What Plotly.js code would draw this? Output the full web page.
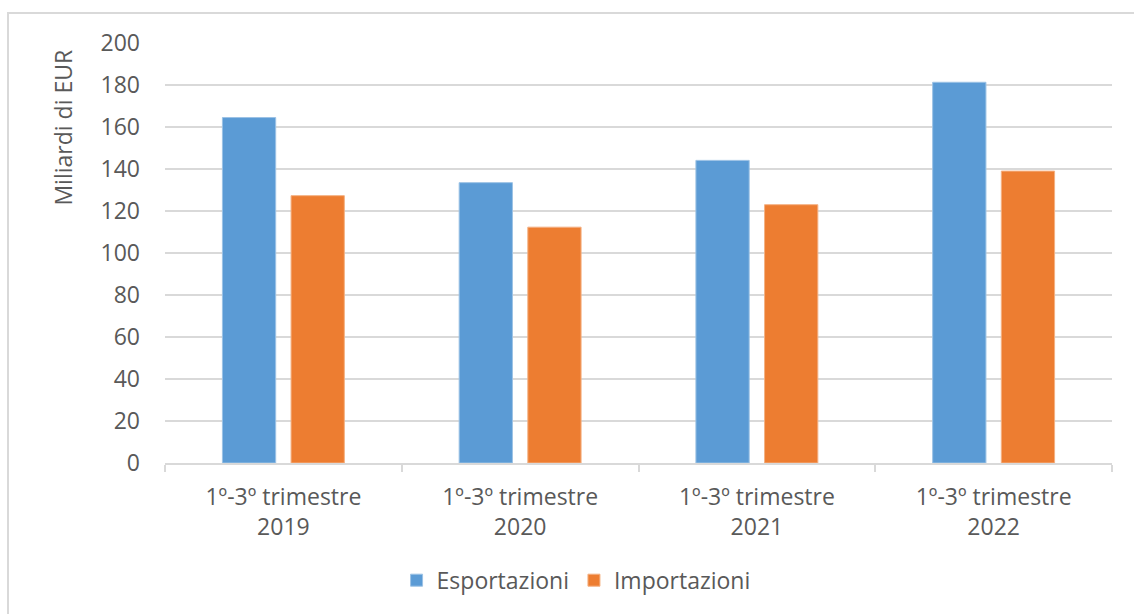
<!DOCTYPE html>
<html>
<head>
<meta charset="utf-8">
<script src="https://cdn.plot.ly/plotly-3.0.1.min.js"></script>
<style>
  html, body { margin: 0; padding: 0; background: #fff; }
  #frame { position: absolute; left: 7px; top: 12px; width: 1127px; height: 602px;
           border-left: 2px solid #d9d9d9; border-top: 2px solid #d9d9d9; box-sizing: border-box; }
  #chart { position: absolute; left: 0; top: 0; width: 1134px; height: 614px; }
</style>
</head>
<body>
<div id="frame"></div>
<div id="chart"></div>
<script>
const categories = ["1º-3º trimestre<br>2019", "1º-3º trimestre<br>2020", "1º-3º trimestre<br>2021", "1º-3º trimestre<br>2022"];
const esportazioni = [164.5, 133.5, 144.1, 181.3];
const importazioni = [127.3, 112.3, 123.0, 139.0];
const yTitle = "Miliardi di EUR";

const font = "Open Sans, Liberation Sans, sans-serif";
const textColor = "#595959";
const gridColor = "#d9d9d9";
const fs = 23;

const traces = [
  { type: "bar", name: "Esportazioni", x: categories, y: esportazioni,
    marker: { color: "#5B9BD5", line: { color: "#9cc2e5", width: 1 } }, hoverinfo: "y" },
  { type: "bar", name: "Importazioni", x: categories, y: importazioni,
    marker: { color: "#ED7D31", line: { color: "#f4b183", width: 1 } }, hoverinfo: "y" }
];

const layout = {
  width: 1134, height: 614,
  paper_bgcolor: "rgba(0,0,0,0)", plot_bgcolor: "rgba(0,0,0,0)",
  margin: { l: 165, r: 22, t: 43, b: 151 },
  barmode: "group", bargap: 0.42, bargroupgap: 0.224,
  font: { family: font, size: fs, color: textColor },
  xaxis: {
    type: "category",
    showgrid: false,
    showline: true, linecolor: gridColor, linewidth: 2,
    ticks: "outside", tickson: "boundaries", ticklen: 7, tickcolor: gridColor, tickwidth: 2,
    ticklabelstandoff: 12,
    tickfont: { family: font, size: fs, color: textColor },
    fixedrange: true
  },
  yaxis: {
    range: [0, 200], dtick: 20, tick0: 0,
    showgrid: true, gridcolor: gridColor, gridwidth: 2,
    zeroline: false, showline: false,
    ticks: "", ticklabelstandoff: 24,
    tickfont: { family: font, size: fs, color: textColor },
    fixedrange: true
  },
  showlegend: true,
  legend: {
    orientation: "h", xref: "container", yref: "container",
    x: 0.508, xanchor: "center", y: 0.055, yanchor: "middle",
    font: { family: font, size: fs, color: textColor },
    itemwidth: 30, tracegroupgap: 0
  },
  annotations: [{
    text: yTitle, textangle: -90, showarrow: false,
    xref: "paper", yref: "paper", x: -0.108, y: 0.798,
    xanchor: "center", yanchor: "middle",
    font: { family: font, size: fs, color: textColor }
  }]
};

Plotly.newPlot("chart", traces, layout, { displayModeBar: false, staticPlot: true });
</script>
</body>
</html>
